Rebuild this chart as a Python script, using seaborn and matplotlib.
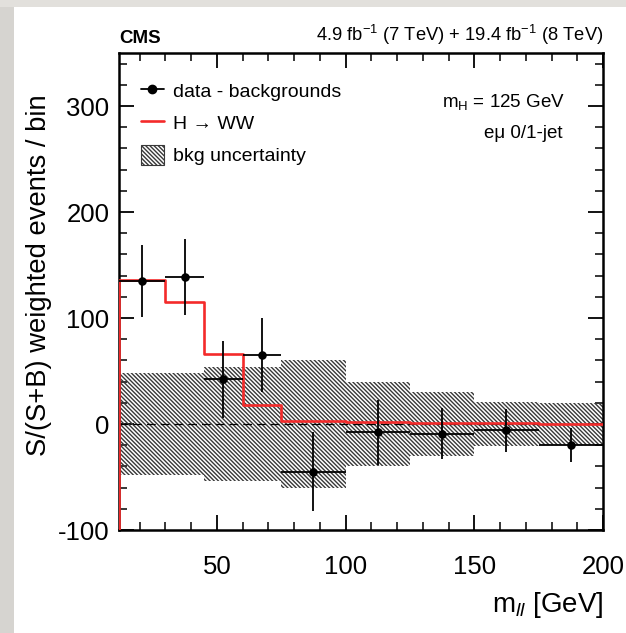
import numpy as np
import pandas as pd
import matplotlib
matplotlib.use("Agg")
import matplotlib.pyplot as plt
import seaborn as sns
from matplotlib.patches import Patch, Rectangle
from matplotlib.lines import Line2D
from matplotlib.ticker import MultipleLocator

# ---- data ----
bin_edges = [12, 30, 45, 60, 75, 100, 125, 150, 175, 200]
signal_hww = [136, 115, 66, 18, 3, 2, 1, 0.5, 0.3]
data_minus_bkg = [135, 139, 42, 65, -45, -8, -9, -6, -20]
data_err = [34, 36, 36, 35, 37, 31, 24, 20, 16]
bkg_unc = [48, 48, 54, 54, 60, 40, 30, 21, 20]
y_min, y_max = -100, 350
x_ticks = [50, 100, 150, 200]
y_ticks = [-100, 0, 100, 200, 300]

sns.set_style("ticks")
plt.rcParams["font.family"] = ["Liberation Sans", "DejaVu Sans"]
plt.rcParams["mathtext.fontset"] = "custom"
plt.rcParams["mathtext.rm"] = "Liberation Sans"
plt.rcParams["mathtext.it"] = "Liberation Sans:italic"
plt.rcParams["mathtext.bf"] = "Liberation Sans:bold"
plt.rcParams["axes.unicode_minus"] = False
plt.rcParams["hatch.linewidth"] = 1.0
for k in ["text.color", "axes.labelcolor", "xtick.color", "ytick.color", "axes.edgecolor"]:
    plt.rcParams[k] = "black"

HATCH = "\\" * 8

fig = plt.figure(figsize=(6.26, 6.33), dpi=100)
fig.patch.set_facecolor("white")
# photo-like grey margins
fig.add_artist(Rectangle((0, 0), 14 / 626, 1, transform=fig.transFigure,
                         facecolor="#d6d4d0", edgecolor="none", zorder=-10))
fig.add_artist(Rectangle((0, 1 - 7 / 633), 1, 7 / 633, transform=fig.transFigure,
                         facecolor="#e2e0dc", edgecolor="none", zorder=-10))

ax = fig.add_axes([119 / 626, 103 / 633, 484 / 626, 477 / 633])

edges = np.array(bin_edges, dtype=float)
centers = 0.5 * (edges[:-1] + edges[1:])
halfw = 0.5 * (edges[1:] - edges[:-1])
unc = np.array(bkg_unc + [bkg_unc[-1]], dtype=float)

# background uncertainty band (hatched)
ax.fill_between(edges, -unc, unc, step="post", facecolor="none",
                edgecolor="#383838", hatch=HATCH, linewidth=0, zorder=1)

# zero line
ax.axhline(0, color="black", lw=0.9, ls=(0, (7, 4)), zorder=2)

# signal step histogram
sig_df = pd.DataFrame({
    "x": [edges[0]] + list(edges),
    "y": [y_min] + list(signal_hww) + [signal_hww[-1]],
})
sns.lineplot(data=sig_df, x="x", y="y", sort=False, estimator=None,
             drawstyle="steps-post", color="#f42a2a", lw=1.9, ax=ax, zorder=3)

# data points
ax.errorbar(centers, data_minus_bkg, yerr=data_err, xerr=halfw, fmt="none",
            ecolor="black", elinewidth=1.3, capsize=0, zorder=4)
pts = pd.DataFrame({"x": centers, "y": data_minus_bkg})
sns.scatterplot(data=pts, x="x", y="y", color="black", s=38, edgecolor="black",
                linewidth=0, ax=ax, zorder=5)

ax.set_xlim(edges[0], edges[-1])
ax.set_ylim(y_min, y_max)
ax.set_xticks(x_ticks)
ax.set_yticks(y_ticks)
ax.xaxis.set_minor_locator(MultipleLocator(10))
ax.yaxis.set_minor_locator(MultipleLocator(20))
ax.tick_params(which="both", direction="in", top=True, right=True)
ax.tick_params(which="major", length=11, width=1.3, labelsize=18.5)
ax.tick_params(which="minor", length=5.5, width=1.1)
ax.tick_params(axis="x", which="major", pad=18)
ax.tick_params(axis="y", which="major", pad=7)
for s in ax.spines.values():
    s.set_linewidth(1.8)
    s.set_visible(True)

ax.set_xlabel(r"m$_{ll}$ [GeV]", fontsize=20, loc="right", labelpad=8)
ax.set_ylabel("S/(S+B) weighted events / bin", fontsize=19.7, labelpad=4)
ax.yaxis.label.set_y(0.535)

# legend
handles = [
    Line2D([0], [0], color="black", marker="o", markersize=6, lw=1.3),
    Line2D([0], [0], color="#f42a2a", lw=1.9),
    Patch(facecolor="white", edgecolor="#383838", hatch=HATCH, lw=0.8),
]
labels = ["data - backgrounds", "H \u2192 WW", "bkg uncertainty"]
ax.legend(handles, labels, loc="upper left", bbox_to_anchor=(0.045, 0.942),
          frameon=False, fontsize=14, handlelength=1.2, handleheight=1.15,
          handletextpad=0.45, labelspacing=0.62, borderpad=0, borderaxespad=0)

ax.text(0.921, 0.897, r"m$_{\mathrm{H}}$ = 125 GeV", transform=ax.transAxes,
        ha="right", va="center", fontsize=13.5)
ax.text(0.917, 0.832, "e\u03bc 0/1-jet", transform=ax.transAxes,
        ha="right", va="center", fontsize=13.5)

ax.text(0.0, 1.012, "CMS", transform=ax.transAxes, ha="left", va="bottom",
        fontsize=13.5, fontweight="bold")
ax.text(1.0, 1.012, r"4.9 fb$^{-1}$ (7 TeV) + 19.4 fb$^{-1}$ (8 TeV)",
        transform=ax.transAxes, ha="right", va="bottom", fontsize=13.2)

fig.savefig("out.png", dpi=100, facecolor=fig.get_facecolor())
